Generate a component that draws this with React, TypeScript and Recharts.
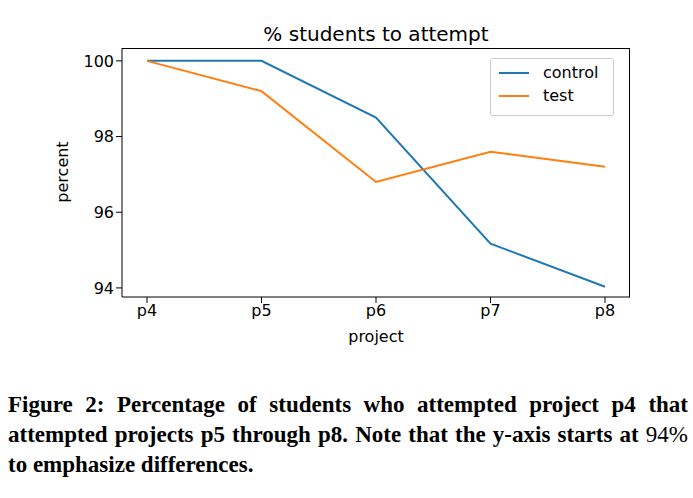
import { LineChart, Line, XAxis, YAxis } from 'recharts';

const projects = ['p4', 'p5', 'p6', 'p7', 'p8'];
const control = [100, 100, 98.5, 95.17, 94.03];
const test = [100, 99.2, 96.8, 97.6, 97.2];
const yTicks = [94, 96, 98, 100];

const data = projects.map((p, i) => ({ project: p, control: control[i], test: test[i] }));

const font = '"DejaVu Sans", sans-serif';
const tick = { fill: '#000', fontSize: 16, fontFamily: font };
const axisLine = { stroke: '#000' };

export default function App() {
  return (
    <div style={{ position: 'absolute', left: 0, top: 0, width: 693, height: 498, background: '#fff', fontFamily: font }}>
      <div style={{ position: 'absolute', left: 122, width: 508, top: 22, textAlign: 'center', fontSize: 20 }}>
        % students to attempt
      </div>
      <LineChart width={693} height={345} data={data} margin={{ top: 48, right: 63, bottom: 0, left: 62 }}>
        <XAxis dataKey="project" tick={tick} axisLine={axisLine} tickLine={axisLine} tickSize={6}
          padding={{ left: 25, right: 25 }} height={48} interval={0} />
        <YAxis domain={[93.76, 100.34]} ticks={yTicks} tick={tick} axisLine={axisLine} tickLine={axisLine}
          tickSize={6} width={60} allowDataOverflow />
        <Line dataKey="control" stroke="#1f77b4" strokeWidth={2} dot={false} isAnimationActive={false} />
        <Line dataKey="test" stroke="#ff7f0e" strokeWidth={2} dot={false} isAnimationActive={false} />
      </LineChart>
      <div style={{ position: 'absolute', left: 122, top: 48, width: 507, height: 248, borderTop: '1px solid #000', borderRight: '1px solid #000', pointerEvents: 'none' }} />
      <div style={{ position: 'absolute', left: 122, width: 508, top: 327, textAlign: 'center', fontSize: 16 }}>project</div>
      <div style={{ position: 'absolute', left: 62, top: 172, fontSize: 16, transform: 'translate(-50%,-50%) rotate(-90deg)' }}>percent</div>
      <div style={{ position: 'absolute', left: 490, top: 58, width: 122, height: 56, border: '1px solid #ccc', borderRadius: 3, fontSize: 16 }}>
        <div style={{ display: 'flex', alignItems: 'center', marginTop: 4, marginLeft: 8 }}>
          <span style={{ width: 30, height: 2, background: '#1f77b4', marginRight: 14 }} />control
        </div>
        <div style={{ display: 'flex', alignItems: 'center', marginTop: 4, marginLeft: 8 }}>
          <span style={{ width: 30, height: 2, background: '#ff7f0e', marginRight: 14 }} />test
        </div>
      </div>
      <div style={{ position: 'absolute', left: 8, top: 390, width: 680, fontFamily: '"Liberation Serif", serif', fontWeight: 'bold', fontSize: 23, lineHeight: '30px', textAlign: 'justify' }}>
        Figure 2: Percentage of students who attempted project p4 that attempted projects p5 through p8. Note that the y-axis starts at <span style={{ fontWeight: 'normal' }}>94%</span> to emphasize differences.
      </div>
    </div>
  );
}
